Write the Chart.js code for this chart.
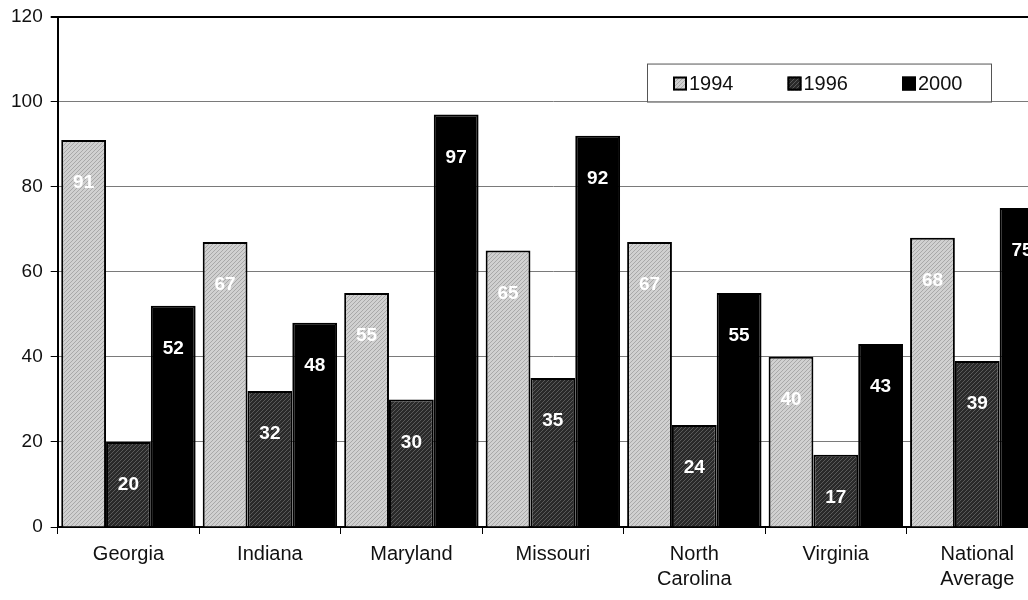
<!DOCTYPE html>
<html>
<head>
<meta charset="utf-8">
<script src="https://cdn.jsdelivr.net/npm/chart.js@4/dist/chart.umd.min.js"></script>
<style>
  html, body { margin: 0; padding: 0; background: #fff; overflow: hidden; }
  #wrap { width: 1050px; height: 600px; }
</style>
</head>
<body>
<div id="wrap"><canvas id="chart" width="1050" height="600"></canvas></div>
<script>
const states = ['Georgia', 'Indiana', 'Maryland', 'Missouri', ['North', 'Carolina'], 'Virginia', ['National', 'Average']];
const years = ['1994', '1996', '2000'];
const values1994 = [91, 67, 55, 65, 67, 40, 68];
const values1996 = [20, 32, 30, 35, 24, 17, 39];
const values2000 = [52, 48, 97, 92, 55, 43, 75];

// halftone-ish fill for the grey bars
function dither(light, dark) {
  const c = document.createElement('canvas');
  c.width = 4; c.height = 4;
  const g = c.getContext('2d');
  g.fillStyle = light;
  g.fillRect(0, 0, 4, 4);
  g.fillStyle = dark;
  g.fillRect(0, 0, 1, 1);
  g.fillRect(2, 2, 1, 1);
  g.fillRect(3, 1, 1, 1);
  g.fillRect(1, 3, 1, 1);
  return g.createPattern(c, 'repeat');
}

const fills = [dither('#d0d0d0', '#a8a8a8'), dither('#2a2a2a', '#5a5a5a'), '#000'];

// white value labels just inside the top of each bar
const barLabels = {
  id: 'barLabels',
  afterDatasetsDraw(chart) {
    const ctx = chart.ctx;
    ctx.save();
    ctx.font = 'bold 19px "Liberation Sans", Arial, sans-serif';
    ctx.fillStyle = '#fff';
    ctx.textAlign = 'center';
    ctx.textBaseline = 'middle';
    chart.data.datasets.forEach((ds, i) => {
      chart.getDatasetMeta(i).data.forEach((bar, j) => {
        ctx.fillText(ds.data[j], bar.x, bar.y + 43);
      });
    });
    ctx.restore();
  }
};

// boxed legend sitting inside the plot, top right
const boxLegend = {
  id: 'boxLegend',
  afterDraw(chart) {
    const ctx = chart.ctx;
    const area = chart.chartArea;
    const right = area.right - 57;
    const left = right - 344;
    const top = area.top + 47;
    const h = 38;
    ctx.save();
    ctx.fillStyle = '#fff';
    ctx.fillRect(left, top, right - left, h);
    ctx.strokeStyle = '#555';
    ctx.lineWidth = 1;
    ctx.strokeRect(left + 0.5, top + 0.5, right - left, h);
    ctx.font = '20px "Liberation Sans", Arial, sans-serif';
    ctx.textBaseline = 'middle';
    ctx.textAlign = 'left';
    chart.data.datasets.forEach((ds, i) => {
      const x = left + 26 + i * 114.5;
      const y = top + 20;
      ctx.fillStyle = ds.backgroundColor;
      ctx.fillRect(x, y - 7, 14, 14);
      ctx.strokeStyle = '#000';
      ctx.lineWidth = 2;
      ctx.strokeRect(x + 1, y - 6, 12, 12);
      ctx.fillStyle = '#111';
      ctx.fillText(ds.label, x + 16, y + 1);
    });
    ctx.restore();
  }
};

new Chart(document.getElementById('chart'), {
  type: 'bar',
  data: {
    labels: states,
    datasets: [
      { label: years[0], data: values1994, backgroundColor: fills[0] },
      { label: years[1], data: values1996, backgroundColor: fills[1] },
      { label: years[2], data: values2000, backgroundColor: fills[2] }
    ]
  },
  options: {
    responsive: false,
    animation: false,
    events: [],
    layout: { padding: { top: 3, left: 3, right: 2, bottom: 0 } },
    datasets: {
      bar: {
        borderColor: '#000',
        borderWidth: 2,
        categoryPercentage: 0.95,
        barPercentage: 1.0
      }
    },
    scales: {
      x: {
        grid: {
          offset: true,
          drawOnChartArea: false,
          drawTicks: true,
          tickLength: 7,
          tickColor: '#000'
        },
        border: { color: '#000', width: 2 },
        ticks: {
          color: '#111',
          padding: 8,
          font: { family: '"Liberation Sans", Arial, sans-serif', size: 20, lineHeight: 1.25 }
        }
      },
      y: {
        min: 0,
        max: 120,
        ticks: {
          stepSize: 20,
          color: '#111',
          padding: 8,
          font: { family: '"Liberation Sans", Arial, sans-serif', size: 19, lineHeight: 0.9 }
        },
        grid: {
          color: ctx => ctx.tick && ctx.tick.value === 120 ? '#000' : '#7a7a7a',
          lineWidth: ctx => ctx.tick && ctx.tick.value === 120 ? 2 : 1,
          tickLength: 7,
          tickColor: '#000'
        },
        border: { color: '#000', width: 2 }
      }
    },
    plugins: {
      legend: { display: false },
      tooltip: { enabled: false }
    }
  },
  plugins: [barLabels, boxLegend]
});
</script>
</body>
</html>
